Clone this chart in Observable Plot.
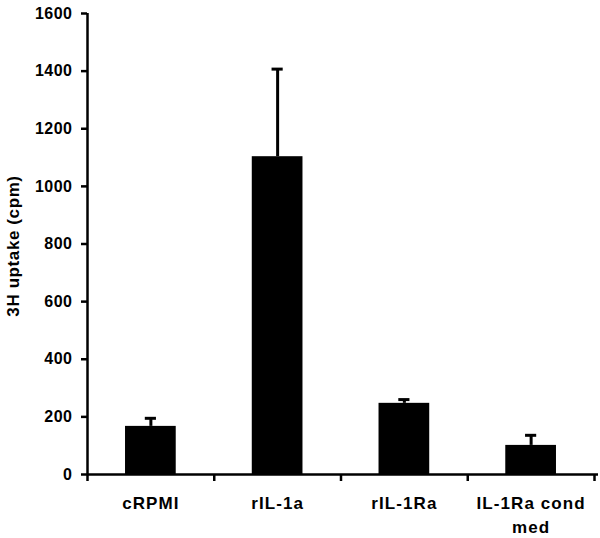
<!DOCTYPE html>
<html><head><meta charset="utf-8">
<script src="https://cdn.jsdelivr.net/npm/d3@7"></script>
<script src="https://cdn.jsdelivr.net/npm/@observablehq/plot@0.6"></script>
<style>body{margin:0;background:#fff} #chart svg text{letter-spacing:0.5px}</style>
</head><body><div id="chart"></div>
<script>
const categories = ["cRPMI", "rIL-1a", "rIL-1Ra", "IL-1Ra cond med"];
const xTickLabels = ["cRPMI", "rIL-1a", "rIL-1Ra", "IL-1Ra cond\nmed"];
const means = [167, 1103, 247, 101];
const upperErrors = [195, 1407, 260, 136];
const yTicks = [0, 200, 400, 600, 800, 1000, 1200, 1400, 1600];
const yLabel = "3H uptake (cpm)";

const data = categories.map((c, i) => ({c, i, label: xTickLabels[i], mean: means[i], hi: upperErrors[i]}));
const boundaries = d3.range(0, categories.length + 1);
const center = d => d.i + 0.5;
const font = "Liberation Sans, Arial, sans-serif";

const chart = Plot.plot({
  width: 600,
  height: 538,
  marginLeft: 87,
  marginTop: 13,
  marginBottom: 64,
  marginRight: 6,
  style: {fontFamily: font, background: "#fff", color: "#000", overflow: "visible"},
  x: {domain: [0, categories.length], axis: null},
  y: {domain: [0, 1600], axis: null},
  marks: [
    Plot.rectY(data, {x1: d => d.i + 0.3, x2: d => d.i + 0.7, y: "mean", fill: "#000"}),
    Plot.ruleX(data, {x: center, y1: "mean", y2: "hi", stroke: "#000", strokeWidth: 3}),
    Plot.ruleY(data, {y: "hi", x1: d => d.i + 0.5 - 0.044, x2: d => d.i + 0.5 + 0.044, stroke: "#000", strokeWidth: 3}),
    Plot.ruleX([0], {y1: 0, y2: 1600, stroke: "#000", strokeWidth: 2.5}),
    Plot.ruleY([0], {stroke: "#000", strokeWidth: 2.5, insetRight: -4}),
    Plot.axisY({ticks: yTicks, tickFormat: "d", tickSize: 6, tickPadding: 9, fontSize: 16, fontWeight: "bold", label: null, strokeWidth: 2.5}),
    Plot.axisX({ticks: boundaries, tickFormat: () => "", tickSize: 7, label: null, strokeWidth: 2.5}),
    Plot.text(data, {x: center, y: 0, text: "label", lineAnchor: "top", dy: 18, fontSize: 17, fontWeight: "bold", lineHeight: 1.38}),
    Plot.text([yLabel], {frameAnchor: "left", textAnchor: "middle", rotate: -90, dx: -74, dy: 2, fontSize: 17, fontWeight: "bold"})
  ]
});
document.getElementById("chart").append(chart);
const svg = d3.select(chart);
svg.selectAll("text").filter(function() { return this.textContent === yLabel; }).style("letter-spacing", "0.6px");
svg.selectAll("text").filter(function() { return xTickLabels.some(l => l.replace("\n", "") === this.textContent); }).style("letter-spacing", "1.1px");
</script>
</body></html>
